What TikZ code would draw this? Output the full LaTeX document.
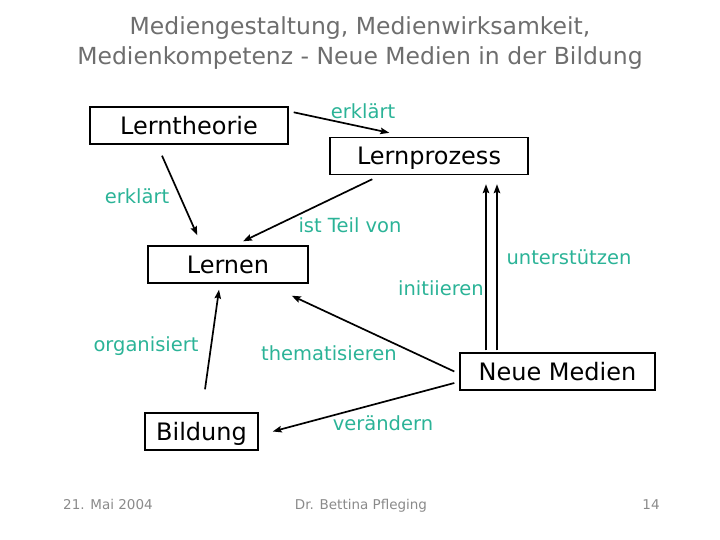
\documentclass[tikz,border=0pt]{standalone}
\usepackage{fontspec}
\setmainfont{DejaVu Sans}
\usepackage{xcolor}
\usetikzlibrary{arrows.meta,calc}
\definecolor{ink}{HTML}{000000}
\definecolor{tea}{HTML}{2BB397}
\definecolor{gry}{HTML}{6E6E6E}
\definecolor{gryF}{HTML}{8A8A8A}
\tikzset{
  box/.style  ={draw=ink, line width=1.4pt, inner sep=0pt, minimum height=37pt,
                text height=19pt, text depth=1pt,
                font=\fontsize{24}{26}\selectfont, text=ink},
  lbl/.style  ={font=\fontsize{19.5}{22}\selectfont, text=tea, inner sep=0pt},
  ttl/.style  ={font=\fontsize{23.5}{30}\selectfont, text=gry, align=center},
  foot/.style ={font=\fontsize{13.5}{16}\selectfont, text=gryF, anchor=base},
  flow/.style ={-{Stealth[length=9pt,width=6.5pt,inset=1.5pt]}, line width=1.7pt, draw=ink},
}
\begin{document}
\begin{tikzpicture}[x=1pt,y=-1pt]
  \useasboundingbox (0,0) rectangle (720,540);
  % title and footer
  \node[ttl] (title) at (360,43.5) {Mediengestaltung, Medienwirksamkeit,\\Medienkompetenz - Neue Medien in der Bildung};
  \node[foot] (date) at (108,509) {21. Mai 2004};
  \node[foot] (auth) at (361,509) {Dr. Bettina Pfleging};
  \node[foot] (page) at (651,509) {14};
  % concepts
  \node[box, minimum width=198pt] (lt) at (189,125.5) {Lerntheorie};
  \node[box, minimum width=198pt] (lp) at (429,156) {Lernprozess};
  \node[box, minimum width=160pt] (ln) at (228,264.5) {Lernen};
  \node[box, minimum width=195pt] (nm) at (557.5,371.5) {Neue Medien};
  \node[box, minimum width=113pt] (bi) at (201.5,431.5) {Bildung};
  % relations
  \draw[flow] ([xshift=5pt,yshift=-6pt]lt.north east) -- ([xshift=60pt,yshift=4pt]lp.north west);
  \draw[flow] ([xshift=-27pt,yshift=-11pt]lt.south) -- ([xshift=50pt,yshift=10pt]ln.north west);
  \draw[flow] ([xshift=43pt,yshift=-4pt]lp.south west) -- ([xshift=15pt,yshift=4pt]ln.north);
  \draw[flow] ([xshift=-71.5pt,yshift=2pt]nm.north) -- ([xshift=57pt,yshift=-9pt]lp.south);
  \draw[flow] ([xshift=-60.5pt,yshift=2pt]nm.north) -- ([xshift=68pt,yshift=-9pt]lp.south);
  \draw[flow] ([xshift=-5pt]nm.west) -- ([xshift=-17pt,yshift=-12pt]ln.south east);
  \draw[flow] ([xshift=-5pt,yshift=-11.5pt]nm.west) -- ([xshift=14pt]bi.east);
  \draw[flow] ([xshift=3.5pt,yshift=23pt]bi.north) -- ([xshift=-9pt,yshift=-6pt]ln.south);
  % relation labels
  \node[lbl] (l1) at (363,111) {erklärt};
  \node[lbl] (l2) at (137,196) {erklärt};
  \node[lbl] (l3) at (350,225) {ist Teil von};
  \node[lbl] (l4) at (569,257) {unterstützen};
  \node[lbl] (l5) at (441,288) {initiieren};
  \node[lbl] (l6) at (329,353) {thematisieren};
  \node[lbl] (l7) at (146,346) {organisiert};
  \node[lbl] (l8) at (383,423) {verändern};
\end{tikzpicture}
\end{document}
